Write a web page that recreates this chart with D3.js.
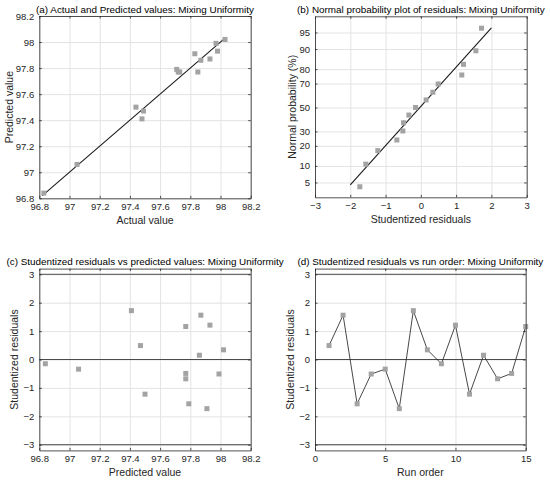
<!DOCTYPE html>
<html>
<head>
<meta charset="utf-8">
<script src="https://cdn.jsdelivr.net/npm/d3@7"></script>
<style>
  body { margin: 0; background: #fff; }
  text { font-family: "Liberation Sans", Arial, sans-serif; }
</style>
</head>
<body>
<div id="chart"></div>
<script>
// ---- data ----
const runOrder  = [1, 2, 3, 4, 5, 6, 7, 8, 9, 10, 11, 12, 13, 14, 15];
const actual    = [97.49, 97.93, 97.71, 97.97, 97.05, 97.83, 97.48, 98.03, 96.83, 97.98, 97.44, 97.87, 97.72, 97.73, 97.85];
const predicted = [97.47, 97.87, 97.79, 97.99, 97.06, 97.91, 97.41, 98.02, 96.84, 97.93, 97.50, 97.86, 97.77, 97.77, 97.77];
const residuals = [0.49, 1.56, -1.56, -0.51, -0.34, -1.73, 1.72, 0.34, -0.15, 1.21, -1.22, 0.15, -0.68, -0.49, 1.16];
// normal plotting positions (%) of the sorted residuals
const probPositions = [4.1, 10.7, 17.2, 23.8, 30.3, 36.9, 43.4, 50, 56.6, 63.1, 69.7, 76.2, 82.8, 89.3, 95.9];

const fitLine  = [96.82, 98.03];                       // y = x reference line
const normLine = [{r: -2, p: 4.46}, {r: 2, p: 95.96}]; // fitted normal line

const valueTicks = [96.8, 97, 97.2, 97.4, 97.6, 97.8, 98, 98.2];
const residTicks = [-3, -2, -1, 0, 1, 2, 3];
const probTicks  = [5, 10, 20, 30, 50, 70, 80, 90, 95];
const runTicks   = [0, 5, 10, 15];
const limitLines = [-3, 0, 3];

const titles = [
  "(a) Actual and Predicted values: Mixing Uniformity",
  "(b) Normal probability plot of residuals: Mixing Uniformity",
  "(c) Studentized residuals vs predicted values: Mixing Uniformity",
  "(d) Studentized residuals vs run order: Mixing Uniformity"
];

// ---- helpers ----
// inverse of the standard normal cdf (Acklam)
function probit(p) {
  const a = [-39.69683028665376, 220.9460984245205, -275.9285104469687, 138.3577518672690, -30.66479806614716, 2.506628277459239];
  const b = [-54.47609879822406, 161.5858368580409, -155.6989798598866, 66.80131188771972, -13.28068155288572];
  const c = [-0.007784894002430293, -0.3223964580411365, -2.400758277161838, -2.549732539343734, 4.374664141464968, 2.938163982698783];
  const d = [0.007784695709041462, 0.3224671290700398, 2.445134137142996, 3.754408661907416];
  const pl = 0.02425;
  let q, r;
  if (p < pl) {
    q = Math.sqrt(-2 * Math.log(p));
    return (((((c[0]*q+c[1])*q+c[2])*q+c[3])*q+c[4])*q+c[5]) / ((((d[0]*q+d[1])*q+d[2])*q+d[3])*q+1);
  } else if (p <= 1 - pl) {
    q = p - 0.5; r = q * q;
    return (((((a[0]*r+a[1])*r+a[2])*r+a[3])*r+a[4])*r+a[5])*q / (((((b[0]*r+b[1])*r+b[2])*r+b[3])*r+b[4])*r+1);
  } else {
    q = Math.sqrt(-2 * Math.log(1 - p));
    return -(((((c[0]*q+c[1])*q+c[2])*q+c[3])*q+c[4])*q+c[5]) / ((((d[0]*q+d[1])*q+d[2])*q+d[3])*q+1);
  }
}

const W = 550, H = 481;
const gridColor = "#e3e3e3", axisColor = "#262626", markerColor = "#a3a3a3";
const fmt = d3.format("~f");

const svg = d3.select("#chart").append("svg")
    .attr("width", W).attr("height", H);

// builds the axes box, grid, ticks and labels of one panel
function panel(box, x, y, xTicks, yTicks, yFmt, cfg) {
  const g = svg.append("g");
  const w = box.x1 - box.x0, h = box.y1 - box.y0;

  // grid
  g.append("g").attr("transform", `translate(0,${box.y1})`)
      .call(d3.axisBottom(x).tickValues(xTicks).tickSize(-h).tickFormat(""))
      .call(s => s.select(".domain").remove())
      .call(s => s.selectAll("line").attr("stroke", gridColor));
  g.append("g").attr("transform", `translate(${box.x0},0)`)
      .call(d3.axisLeft(y).tickValues(yTicks).tickSize(-w).tickFormat(""))
      .call(s => s.select(".domain").remove())
      .call(s => s.selectAll("line").attr("stroke", gridColor));

  const layer = g.append("g");

  // box with inward ticks
  const axes = g.append("g");
  axes.append("g").attr("transform", `translate(0,${box.y1})`)
      .call(d3.axisBottom(x).tickValues(xTicks).tickSizeInner(-2.5).tickSizeOuter(0)
            .tickPadding(5).tickFormat(fmt));
  axes.append("g").attr("transform", `translate(0,${box.y0})`)
      .call(d3.axisTop(x).tickValues(xTicks).tickSizeInner(-2.5).tickSizeOuter(0).tickFormat(""));
  axes.append("g").attr("transform", `translate(${box.x0},0)`)
      .call(d3.axisLeft(y).tickValues(yTicks).tickSizeInner(-2.5).tickSizeOuter(0)
            .tickPadding(5).tickFormat(yFmt));
  axes.append("g").attr("transform", `translate(${box.x1},0)`)
      .call(d3.axisRight(y).tickValues(yTicks).tickSizeInner(-2.5).tickSizeOuter(0).tickFormat(""));
  axes.selectAll(".domain").attr("stroke", axisColor).attr("stroke-width", 0.8);
  axes.selectAll(".tick line").attr("stroke", axisColor).attr("stroke-width", 0.8);
  axes.selectAll(".tick text").attr("fill", axisColor)
      .style("font-size", "9.5px").style("font-family", "'Liberation Sans', Arial, sans-serif");

  // title and labels
  g.append("text")
      .attr("x", (box.x0 + box.x1) / 2).attr("y", box.y0 - 3.5)
      .attr("text-anchor", "middle").style("font-size", "9.9px").attr("fill", "#000")
      .text(cfg.title);
  g.append("text")
      .attr("x", (box.x0 + box.x1) / 2).attr("y", box.y1 + 25.5)
      .attr("text-anchor", "middle").style("font-size", "10.5px").attr("fill", axisColor)
      .text(cfg.xLabel);
  g.append("text")
      .attr("transform", `translate(${cfg.yLabelX},${(box.y0 + box.y1) / 2}) rotate(-90)`)
      .attr("text-anchor", "middle").style("font-size", "10.5px").attr("fill", axisColor)
      .text(cfg.yLabel);

  return layer;
}

function squares(layer, pts, x, y) {
  layer.selectAll("rect.pt")
      .data(pts)
      .join("rect")
      .attr("class", "pt")
      .attr("x", d => x(d[0]) - 2.5)
      .attr("y", d => y(d[1]) - 2.5)
      .attr("width", 5).attr("height", 5)
      .attr("fill", markerColor);
}

function refLines(layer, x, y) {
  layer.selectAll("line.ref")
      .data(limitLines)
      .join("line")
      .attr("class", "ref")
      .attr("x1", x.range()[0]).attr("x2", x.range()[1])
      .attr("y1", d => y(d)).attr("y2", d => y(d))
      .attr("stroke", "#4a4a4a").attr("stroke-width", 1);
}

// ---- (a) actual vs predicted ----
const boxA = {x0: 39.3, x1: 250.7, y0: 16, y1: 198.3};
const xA = d3.scaleLinear().domain([96.8, 98.2]).range([boxA.x0, boxA.x1]);
const yA = d3.scaleLinear().domain([96.8, 98.2]).range([boxA.y1, boxA.y0]);
const layA = panel(boxA, xA, yA, valueTicks, valueTicks, fmt,
    {title: titles[0], xLabel: "Actual value", yLabel: "Predicted value", yLabelX: 13});
layA.append("line")
    .attr("x1", xA(fitLine[0])).attr("y1", yA(fitLine[0]))
    .attr("x2", xA(fitLine[1])).attr("y2", yA(fitLine[1]))
    .attr("stroke", "#1a1a1a").attr("stroke-width", 1.1);
squares(layA, actual.map((v, i) => [v, predicted[i]]), xA, yA);

// ---- (b) normal probability plot ----
const boxB = {x0: 315, x1: 526.7, y0: 16.3, y1: 197.3};
const xB = d3.scaleLinear().domain([-3, 3]).range([boxB.x0, boxB.x1]);
// y runs linearly in normal quantiles; ticks are labelled in percent
const zB = d3.scaleLinear().domain([-1.97, 2.0]).range([boxB.y1, boxB.y0]);
const yB = p => zB(probit(p / 100));
const layB = panel(boxB, xB, zB, residTicks, probTicks.map(p => probit(p / 100)),
    (z, i) => probTicks[i],
    {title: titles[1], xLabel: "Studentized residuals", yLabel: "Normal probability (%)", yLabelX: 296});
layB.append("line")
    .attr("x1", xB(normLine[0].r)).attr("y1", yB(normLine[0].p))
    .attr("x2", xB(normLine[1].r)).attr("y2", yB(normLine[1].p))
    .attr("stroke", "#1a1a1a").attr("stroke-width", 1.1);
const sortedRes = residuals.slice().sort(d3.ascending);
layB.selectAll("rect.pt")
    .data(sortedRes.map((r, i) => [r, probPositions[i]]))
    .join("rect")
    .attr("class", "pt")
    .attr("x", d => xB(d[0]) - 2.5)
    .attr("y", d => yB(d[1]) - 2.5)
    .attr("width", 5).attr("height", 5)
    .attr("fill", markerColor);

// ---- (c) residuals vs predicted ----
const boxC = {x0: 39.3, x1: 250.7, y0: 268.6, y1: 450.4};
const xC = d3.scaleLinear().domain([96.8, 98.2]).range([boxC.x0, boxC.x1]);
const yC = d3.scaleLinear().domain([-3.2, 3.2]).range([boxC.y1, boxC.y0]);
const layC = panel(boxC, xC, yC, valueTicks, residTicks, fmt,
    {title: titles[2], xLabel: "Predicted value", yLabel: "Studentized residuals", yLabelX: 18});
refLines(layC, xC, yC);
squares(layC, predicted.map((v, i) => [v, residuals[i]]), xC, yC);

// ---- (d) residuals vs run order ----
const boxD = {x0: 315, x1: 525.7, y0: 268.6, y1: 450.4};
const xD = d3.scaleLinear().domain([0, 15]).range([boxD.x0, boxD.x1]);
const yD = d3.scaleLinear().domain([-3.2, 3.2]).range([boxD.y1, boxD.y0]);
const layD = panel(boxD, xD, yD, runTicks, residTicks, fmt,
    {title: titles[3], xLabel: "Run order", yLabel: "Studentized residuals", yLabelX: 294});
refLines(layD, xD, yD);
const runPts = runOrder.map((r, i) => [r, residuals[i]]);
layD.append("path")
    .datum(runPts)
    .attr("fill", "none")
    .attr("stroke", "#333")
    .attr("stroke-width", 0.9)
    .attr("d", d3.line().x(d => xD(d[0])).y(d => yD(d[1])));
squares(layD, runPts, xD, yD);
</script>
</body>
</html>
